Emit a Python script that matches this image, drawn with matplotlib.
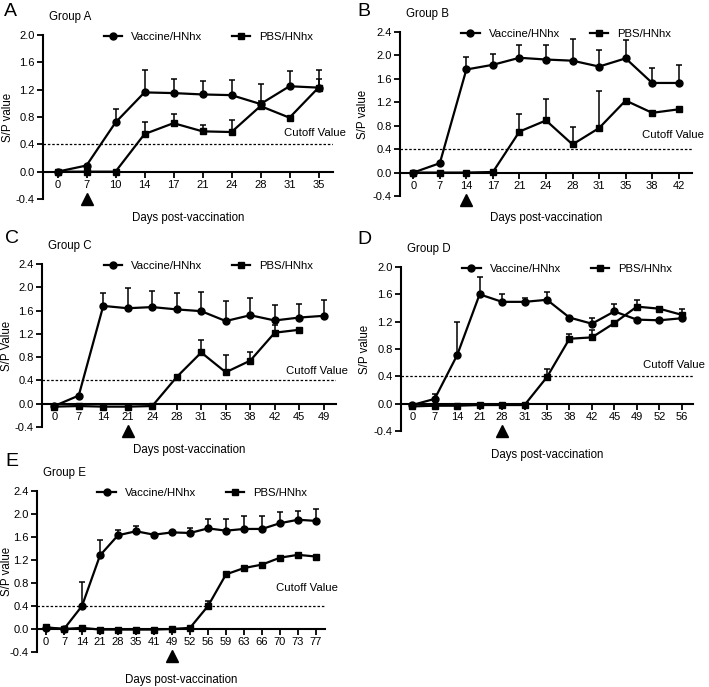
import numpy as np
import matplotlib
matplotlib.use("Agg")
import matplotlib.pyplot as plt
from matplotlib.transforms import ScaledTranslation, blended_transform_factory

plt.rcParams['font.family'] = ['Liberation Sans', 'DejaVu Sans']

# ---- data ----
days_a = [0, 7, 10, 14, 17, 21, 24, 28, 31, 35]
vac_a = [0, 0.09, 0.72, 1.16, 1.15, 1.13, 1.12, 0.99, 1.25, 1.23]
vac_a_err = [0, 0, 0.19, 0.33, 0.21, 0.20, 0.22, 0.29, 0.22, 0.26]
pbs_a = [0, 0, 0, 0.55, 0.71, 0.59, 0.58, 0.96, 0.79, 1.23]
pbs_a_err = [0, 0, 0, 0.18, 0.14, 0.10, 0.17, 0.08, 0, 0.13]

days_b = [0, 7, 14, 17, 21, 24, 28, 31, 35, 38, 42]
vac_b = [0, 0.16, 1.76, 1.84, 1.96, 1.93, 1.91, 1.81, 1.95, 1.53, 1.53]
vac_b_err = [0, 0, 0.21, 0.19, 0.21, 0.24, 0.37, 0.29, 0.32, 0.26, 0.31]
pbs_b = [0, 0, 0, 0.01, 0.70, 0.89, 0.48, 0.76, 1.23, 1.02, 1.08]
pbs_b_err = [0, 0, 0, 0, 0.30, 0.36, 0.29, 0.64, 0, 0, 0]

days_c = [0, 7, 14, 21, 24, 28, 31, 35, 38, 42, 45, 49]
vac_c = [-0.04, 0.14, 1.68, 1.64, 1.66, 1.62, 1.59, 1.42, 1.52, 1.43, 1.48, 1.51]
vac_c_err = [0, 0, 0.22, 0.35, 0.27, 0.29, 0.33, 0.35, 0.30, 0.27, 0.23, 0.28]
pbs_c = [-0.05, -0.04, -0.05, -0.05, -0.04, 0.46, 0.88, 0.54, 0.74, 1.22, 1.27, np.nan]
pbs_c_err = [0, 0, 0, 0, 0, 0, 0.21, 0.29, 0.15, 0.13, 0, 0]

days_d = [0, 7, 14, 21, 28, 31, 35, 38, 42, 45, 49, 52, 56]
vac_d = [-0.02, 0.07, 0.71, 1.60, 1.49, 1.49, 1.52, 1.26, 1.17, 1.35, 1.23, 1.22, 1.25]
vac_d_err = [0, 0.07, 0.49, 0.26, 0.12, 0.05, 0.12, 0, 0.09, 0.11, 0, 0, 0]
pbs_d = [-0.04, -0.03, -0.03, -0.02, -0.02, -0.02, 0.39, 0.95, 0.97, 1.18, 1.42, 1.39, 1.30]
pbs_d_err = [0, 0, 0, 0, 0, 0, 0.12, 0.07, 0.11, 0, 0.10, 0, 0.08]

days_e = [0, 7, 14, 21, 28, 35, 41, 49, 52, 56, 59, 63, 66, 70, 73, 77]
vac_e = [0.02, 0, 0.40, 1.28, 1.63, 1.70, 1.64, 1.68, 1.67, 1.75, 1.71, 1.74, 1.74, 1.84, 1.90, 1.88]
vac_e_err = [0, 0, 0.42, 0.27, 0.09, 0.09, 0, 0, 0.09, 0.17, 0.21, 0.22, 0.23, 0.19, 0.15, 0.21]
pbs_e = [0.03, 0, 0.02, -0.01, -0.01, -0.01, -0.01, 0, 0.02, 0.40, 0.95, 1.06, 1.12, 1.24, 1.29, 1.26]
pbs_e_err = [0, 0, 0, 0, 0, 0, 0, 0, 0, 0.09, 0, 0, 0, 0, 0, 0]

vacc_day = {'A': 7, 'B': 14, 'C': 21, 'D': 28, 'E': 49}
cutoff = 0.4

W, H = 709, 687
fig = plt.figure(figsize=(W / 100, H / 100), dpi=100)

# layout per panel, in pixels: axes box (left, top, right, bottom), letter pos,
# cutoff text y (data), xlabel offset, ylabel offset
panels = [
    ('A', days_a, vac_a, vac_a_err, pbs_a, pbs_a_err, 2.0, 'S/P value',
     (43, 35, 333, 199), (4, 12), 0.57, 19, 35),
    ('B', days_b, vac_b, vac_b_err, pbs_b, pbs_b_err, 2.4, 'S/P value',
     (400, 32, 692, 196), (357, 12), 0.65, 22, 37),
    ('C', days_c, vac_c, vac_c_err, pbs_c, pbs_c_err, 2.4, 'S/P Value',
     (42, 264, 336, 427), (5, 238), 0.57, 23, 35),
    ('D', days_d, vac_d, vac_d_err, pbs_d, pbs_d_err, 2.0, 'S/P value',
     (401, 267, 693, 431), (357, 240), 0.56, 24, 36),
    ('E', days_e, vac_e, vac_e_err, pbs_e, pbs_e_err, 2.4, 'S/P value',
     (37, 491, 325, 652), (5, 462), 0.71, 28, 30),
]

for letter, days, vac, vac_err, pbs, pbs_err, ymax, ylab, box, lpos, cut_y, xl_off, yl_off in panels:
    l, t, r, b = box
    ax = fig.add_axes([l / W, 1 - b / H, (r - l) / W, (b - t) / H])
    idx = np.arange(len(days))

    # upper-only error bars
    for y, e in ((vac, vac_err), (pbs, pbs_err)):
        y = np.array(y, float)
        e = np.array(e, float)
        m = e > 0
        ax.errorbar(idx[m], y[m], yerr=[np.zeros(m.sum()), e[m]], fmt='none',
                    ecolor='black', elinewidth=1.1, capsize=2.2, capthick=1.1, zorder=2)

    ax.plot(idx, vac, color='black', lw=1.6, marker='o', ms=5, label='Vaccine/HNhx', zorder=3)
    ax.plot(idx, pbs, color='black', lw=1.6, marker='s', ms=5, label='PBS/HNhx', zorder=3)

    ax.axhline(cutoff, color='black', lw=0.9, ls=(0, (2, 1.5)), zorder=1)
    tr = blended_transform_factory(ax.transAxes, ax.transData)
    ax.text(0.83, cut_y, 'Cutoff Value', transform=tr, fontsize=8.2, va='center', ha='left')

    ax.set_xlim(-0.5, len(days) - 0.5)
    ax.set_ylim(-0.4, ymax)
    ax.set_xticks(idx, labels=[str(d) for d in days])
    yt = np.arange(-0.4, ymax + 0.01, 0.4)
    ax.set_yticks(yt)
    ax.set_yticklabels([f'{v:.1f}' for v in yt])

    for s in ('top', 'right'):
        ax.spines[s].set_visible(False)
    ax.spines['bottom'].set_position(('data', 0))
    ax.spines['left'].set_linewidth(1.5)
    ax.spines['bottom'].set_linewidth(1.5)
    ax.tick_params(direction='out', length=4, width=1.3, labelsize=8, pad=2)

    # vaccination marker under the axis
    k = days.index(vacc_day[letter])
    off = ScaledTranslation(0, -0.27, fig.dpi_scale_trans)
    ax.plot([k], [0], marker='^', ms=8, color='black', transform=ax.transData + off, clip_on=False)

    ax.legend(loc='center left', bbox_to_anchor=(0.21, 0.99), ncol=2, frameon=False,
              fontsize=8.2, borderpad=0, borderaxespad=0, handlelength=1.6,
              handletextpad=0.8, columnspacing=2.6)

    ax.text(-yl_off / (r - l), 0.5, ylab, rotation=90, transform=ax.transAxes,
            ha='center', va='center', fontsize=8.3)
    ax.text(0.5, -xl_off / (b - t), 'Days post-vaccination', transform=ax.transAxes,
            ha='center', va='center', fontsize=8.3)
    ax.annotate(f'Group {letter}', xy=(0, 1), xycoords='axes fraction', xytext=(4, 13),
                textcoords='offset points', ha='left', va='center', fontsize=8.3)
    fig.text(lpos[0] / W, 1 - lpos[1] / H, letter, fontsize=14, ha='left', va='center')

fig.savefig('out.png', dpi=100)
